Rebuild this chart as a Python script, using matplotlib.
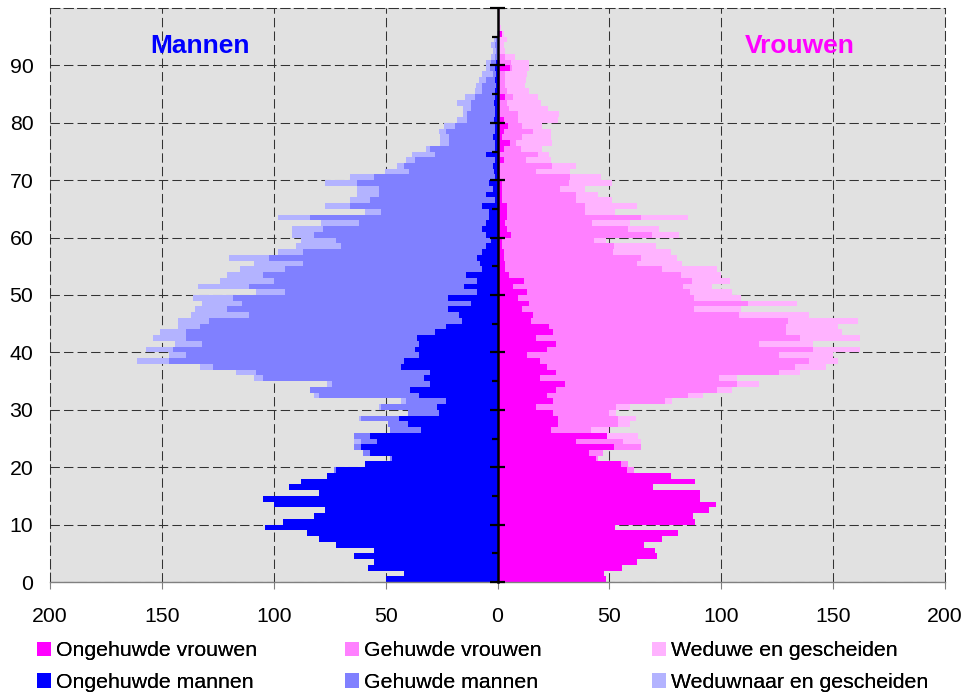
import numpy as np
import matplotlib.pyplot as plt

plt.rcParams['font.family'] = ['Liberation Sans', 'DejaVu Sans']

# leeftijden 0..99
ages = np.arange(100)

man_ong = [50, 42, 58, 55, 64, 55, 72, 80, 85, 104,
           96, 82, 77, 100, 105, 80, 93, 88, 76, 72,
           59, 47, 57, 61, 54, 57, 34, 40, 44, 26,
           27, 23, 35, 39, 30, 33, 30, 43, 42, 35,
           37, 35, 36, 28, 23, 16, 17, 22, 12, 22,
           9, 15, 9, 14, 7, 8, 9, 7, 5, 3,
           5, 7, 5, 4, 4, 7, 1, 5, 2, 4,
           1, 1.5, 2, 1, 5, 1, 1, 2, 1, 1,
           1.5, 1, 1, 1.5, 1, 1, 0.5, 1, 0.5, 1,
           0.5, 0, 0, 0, 0, 0, 0, 0, 0, 0]
man_geh = [0, 0, 0, 0, 0, 0, 0, 0, 0, 0,
           0, 0, 0, 0, 0, 0, 0, 0, 0, 1,
           0, 1, 3, 3, 7, 7, 14, 9, 17, 14,
           25, 18, 45, 45, 44, 72, 78, 84, 105, 104,
           108, 97, 103, 111, 110, 113, 94, 99, 102, 96,
           86, 96, 91, 91, 88, 79, 93, 80, 65, 69,
           77, 71, 57, 80, 48, 59, 56, 48, 51, 59,
           54, 38, 40, 36, 23, 29, 20.6, 19.6, 22, 18,
           12, 12.6, 10.8, 10.3, 9, 6, 6.4, 4, 1.3, 2.3,
           2.5, 1, 0.8, 1, 0.5, 0, 0, 0, 0, 0]
man_wed = [0, 0, 0, 0, 0, 0, 0, 0, 0, 0,
           0, 0, 0, 0, 0, 0, 0, 0, 0, 0,
           0, 0, 0, 0, 3, 0, 0, 0, 1, 0,
           1, 2, 2, 0, 2, 4, 9, 6, 14, 8,
           12, 12, 15, 12, 10, 14, 26, 14, 18, 18,
           13, 23, 24, 16, 20, 22, 18, 11, 20, 16,
           10, 14, 17, 14, 7, 11, 9, 10, 10, 14,
           11, 11, 3, 4, 10, 2, 4, 4, 3, 5,
           4.5, 1.8, 3.6, 6.2, 4.5, 3, 2.6, 3.2, 5, 1.7,
           2, 1.8, 1, 1.8, 1, 0.3, 0, 0, 0, 0]

vrouw_ong = [48.5, 47.6, 55.7, 62.4, 71.3, 70.4, 65.5, 73.5, 80.7, 52.5,
             88.2, 87.4, 94.5, 97.6, 90.5, 90.5, 69.5, 88.2, 77.5, 57.9,
             55.2, 44, 41, 52, 35, 49, 24, 27, 27, 25,
             17, 25, 22, 26, 30, 19, 26, 22, 19, 13,
             22, 26, 17, 25, 23, 15, 16, 11, 14, 9,
             13, 7, 12, 5, 3.4, 3.4, 3, 2.7, 2, 2,
             6, 4.3, 3.4, 4.3, 4.3, 4.3, 2, 2, 2, 2,
             1.2, 1.2, 1.2, 2.7, 1.2, 2.7, 5.7, 2, 2.7, 4.5,
             2.7, 1.2, 1.2, 1.2, 3.4, 1.2, 1.2, 1.2, 1.2, 5.7,
             1.2, 0, 0, 0, 0, 2, 0, 0, 0, 0]
vrouw_geh = [0, 0, 0, 0, 0, 0, 0, 0, 0, 0,
             0, 0, 0, 0, 0, 0, 0, 0, 0, 3,
             3, 1, 6, 12, 21, 0, 18, 27, 27, 25,
             36, 50, 63, 72, 77, 80, 100, 111, 120, 113,
             119, 91, 118, 104, 106, 115, 92, 77, 98, 79,
             73, 76, 75, 77, 70, 59, 61, 49, 50, 41,
             63, 54, 39, 60, 35, 35, 33, 33, 26, 30,
             31, 16, 23, 10, 17, 8, 2.6, 9, 13, 6.5,
             6.3, 7.8, 3.8, 3.1, 3.6, 3.1, 2.2, 2.2, 2, 0.8,
             4.8, 3.4, 0, 0, 0, 0, 0, 0, 0, 0]
vrouw_wed = [0, 0, 0, 0, 0, 0, 0, 0, 0, 0,
             0, 0, 0, 0, 0, 0, 0, 0, 0, 0,
             0, 0, 0, 0, 8, 14, 8, 5, 8, 3,
             6, 3, 7, 7, 10, 8, 9, 14, 13, 24,
             21, 24, 27, 25, 23, 31, 31, 21, 22, 21,
             19, 13, 17, 18, 24.6, 20, 16, 26, 19, 5.5,
             12, 14, 17, 21, 13, 23, 16, 10, 11, 19,
             14, 15, 11, 11, 5, 9, 16, 13, 8, 9,
             18, 18.5, 17.6, 15.2, 11, 9.7, 9, 9.4, 9.8, 7.5,
             8, 4.5, 3.4, 3, 4.3, 1, 1.6, 1, 1, 1]

labels_v = ['Ongehuwde vrouwen', 'Gehuwde vrouwen', 'Weduwe en gescheiden']
labels_m = ['Ongehuwde mannen', 'Gehuwde mannen', 'Weduwnaar en gescheiden']
kleur_v = ['#ff00ff', '#ff80ff', '#ffb3ff']
kleur_m = ['#0000ff', '#8080ff', '#b3b3ff']

fig = plt.figure(figsize=(9.67, 6.97), dpi=100)
ax = fig.add_axes([50/967, 1-582/697, 895/967, 574/697])
ax.set_facecolor('#e1e1e1')

# mannen naar links (negatief), vrouwen naar rechts
m = [np.array(man_ong), np.array(man_geh), np.array(man_wed)]
v = [np.array(vrouw_ong), np.array(vrouw_geh), np.array(vrouw_wed)]
bars_m = []
bars_v = []
left_m = np.zeros(100)
left_v = np.zeros(100)
for i in range(3):
    bars_m.append(ax.barh(ages, -m[i], left=left_m, height=1, align='edge',
                          color=kleur_m[i], linewidth=0, label=labels_m[i]))
    bars_v.append(ax.barh(ages, v[i], left=left_v, height=1, align='edge',
                          color=kleur_v[i], linewidth=0, label=labels_v[i]))
    left_m = left_m - m[i]
    left_v = left_v + v[i]

ax.set_xlim(-200, 200)
ax.set_ylim(0, 100)

xt = np.arange(-200, 201, 50)
ax.set_xticks(xt)
ax.set_xticklabels([str(abs(t)) for t in xt], fontsize=15.3)
ax.set_yticks(np.arange(0, 100, 10))
ax.set_yticklabels([str(t) for t in range(0, 100, 10)], fontsize=15.3)
ax.tick_params(axis='y', length=0, pad=12)
ax.tick_params(axis='x', length=5, width=0.8, color='#808080', pad=13)

ax.set_axisbelow(True)
ax.grid(True, color='#333333', linestyle=(0, (9, 4)), linewidth=0.75)
for s in ['top', 'left', 'right']:
    ax.spines[s].set_linestyle((0, (9, 4)))
    ax.spines[s].set_linewidth(0.75)
    ax.spines[s].set_color('#333333')
ax.spines['bottom'].set_color('#808080')
ax.spines['bottom'].set_linewidth(1)

# middenas met streepjes
ax.plot([0, 0], [0, 100], color='black', linewidth=1.8, zorder=5, clip_on=False)
major = np.arange(0, 101, 10)
minor = np.arange(5, 100, 10)
ax.hlines(major, -3.2, 3.4, color='black', linewidth=1.6, zorder=5, clip_on=False)
ax.hlines(minor, -2.6, 0, color='black', linewidth=1.6, zorder=5, clip_on=False)

ax.text(-133, 93.3, 'Mannen', color='#0000ff', fontsize=19, fontweight='bold',
        ha='center', va='center')
ax.text(135, 93.3, 'Vrouwen', color='#ff00ff', fontsize=19, fontweight='bold',
        ha='center', va='center')

# legenda in drie kolommen
for i, x0 in enumerate([37, 345, 652]):
    leg = fig.legend(handles=[bars_v[i], bars_m[i]], loc='center left',
                     bbox_to_anchor=(x0/967, 1-666.5/697), frameon=False,
                     fontsize=15.3, handlelength=0.66, handleheight=0.66,
                     handletextpad=0.25, labelspacing=0.6, borderpad=0,
                     borderaxespad=0)
    fig.add_artist(leg)

fig.savefig('out.png', dpi=100)
